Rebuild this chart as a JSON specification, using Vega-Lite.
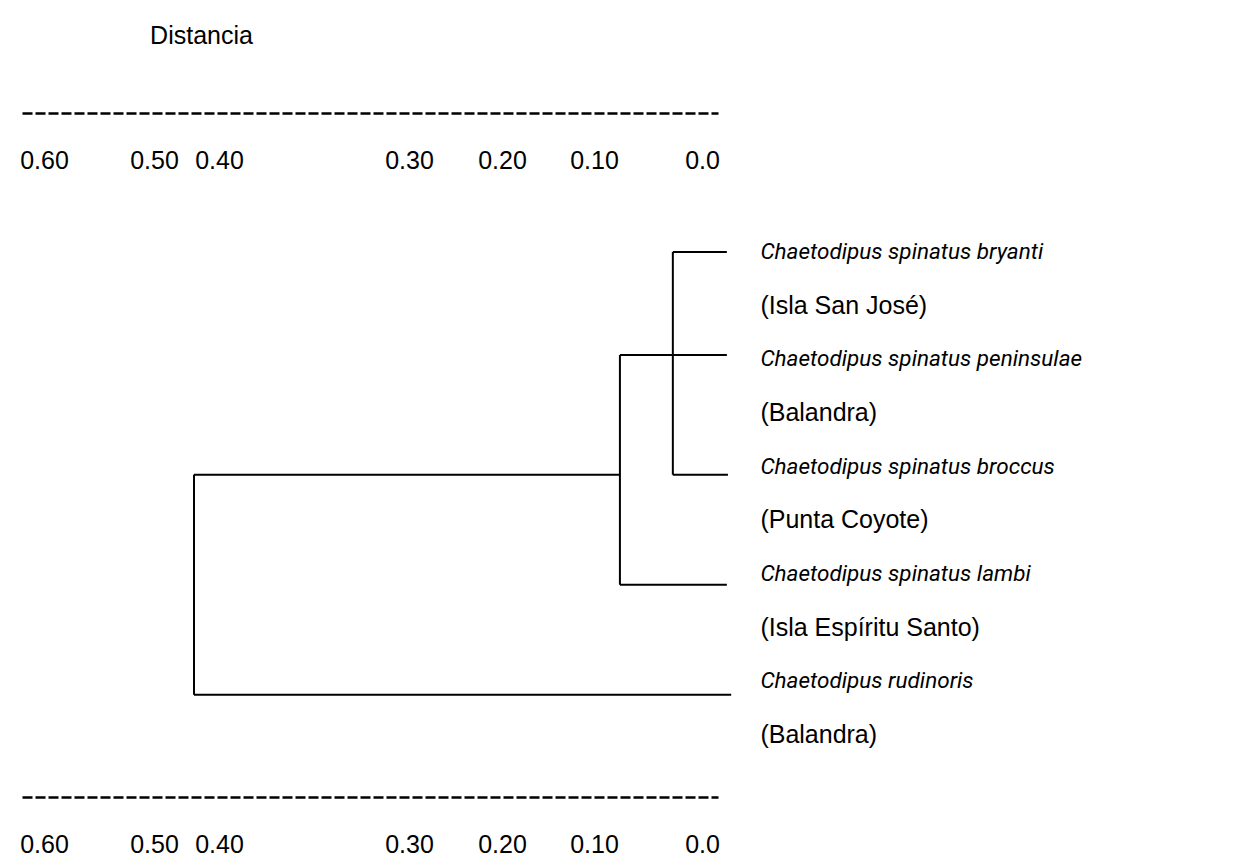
{
  "$schema": "https://vega.github.io/schema/vega-lite/v6.json",
  "width": 1236,
  "height": 865,
  "padding": 0,
  "autosize": "none",
  "background": "white",
  "config": {"view": {"stroke": null}, "font": "Liberation Sans"},
  "datasets": {
    "segments": [
      {"part": "bryanti", "x1": 0.027, "x2": -0.023, "y1": 1, "y2": 1},
      {"part": "peninsulae", "x1": 0.076, "x2": -0.023, "y1": 2.92, "y2": 2.92},
      {"part": "broccus", "x1": 0.027, "x2": -0.024, "y1": 5.15, "y2": 5.15},
      {"part": "node A", "x1": 0.027, "x2": 0.027, "y1": 1, "y2": 5.15},
      {"part": "lambi", "x1": 0.076, "x2": -0.023, "y1": 7.2, "y2": 7.2},
      {"part": "node B", "x1": 0.076, "x2": 0.076, "y1": 2.92, "y2": 7.2},
      {"part": "root-B", "x1": 0.4385, "x2": 0.076, "y1": 5.15, "y2": 5.15},
      {"part": "rudinoris", "x1": 0.4385, "x2": -0.027, "y1": 9.25, "y2": 9.25},
      {"part": "root", "x1": 0.4385, "x2": 0.4385, "y1": 5.15, "y2": 9.25}
    ],
    "labels": [
      {"row": 1, "kind": "taxon", "text": "Chaetodipus spinatus bryanti"},
      {"row": 2, "kind": "locality", "text": "(Isla San José)"},
      {"row": 3, "kind": "taxon", "text": "Chaetodipus spinatus peninsulae"},
      {"row": 4, "kind": "locality", "text": "(Balandra)"},
      {"row": 5, "kind": "taxon", "text": "Chaetodipus spinatus broccus"},
      {"row": 6, "kind": "locality", "text": "(Punta Coyote)"},
      {"row": 7, "kind": "taxon", "text": "Chaetodipus spinatus lambi"},
      {"row": 8, "kind": "locality", "text": "(Isla Espíritu Santo)"},
      {"row": 9, "kind": "taxon", "text": "Chaetodipus rudinoris"},
      {"row": 10, "kind": "locality", "text": "(Balandra)"}
    ]
  },
  "resolve": {"axis": {"x": "independent"}},
  "layer": [
    {
      "data": {"name": "segments"},
      "mark": {"type": "rule", "color": "black", "strokeWidth": 2},
      "encoding": {
        "x": {
          "field": "x1", "type": "quantitative",
          "scale": {"domain": [0.62, 0.6, 0.5, 0.4, 0.3, 0.2, 0.1, 0, -0.0148], "range": [22, 44, 154, 219, 409, 502, 594, 702, 718], "nice": false, "zero": false},
          "axis": {
            "orient": "bottom", "offset": -752,
            "values": [0.6, 0.5, 0.4, 0.3, 0.2, 0.1, 0],
            "labelExpr": "datum.value == 0 ? '0.0' : format(datum.value, '.2f')",
            "ticks": false, "grid": false, "labelFlush": false, "labelOverlap": false,
            "domainColor": "black", "domainWidth": 2.5, "domainDash": [10, 3],
            "labelFontSize": 25, "labelColor": "black", "labelPadding": 47, "labelBaseline": "middle",
            "title": "Distancia", "titleX": 201, "titleY": -78, "titleAlign": "center", "titleBaseline": "middle",
            "titleFontSize": 25, "titleFontWeight": "normal", "titleColor": "black"
          }
        },
        "x2": {"field": "x2"},
        "y": {"field": "y1", "type": "quantitative", "scale": {"domain": [1, 10], "range": [252, 735], "nice": false, "zero": false}, "axis": null},
        "y2": {"field": "y2"}
      }
    },
    {
      "data": {"name": "labels"},
      "transform": [{"filter": "datum.kind == 'taxon'"}],
      "mark": {"type": "text", "align": "left", "baseline": "middle", "font": "Roboto", "fontSize": 22.5, "fontStyle": "italic", "color": "black"},
      "encoding": {
        "x": {
          "datum": -0.054, "type": "quantitative",
          "scale": {"domain": [0.62, 0.6, 0.5, 0.4, 0.3, 0.2, 0.1, 0, -0.0148], "range": [22, 44, 154, 219, 409, 502, 594, 702, 718], "nice": false, "zero": false},
          "axis": {
            "orient": "bottom", "offset": -68,
            "values": [0.6, 0.5, 0.4, 0.3, 0.2, 0.1, 0],
            "labelExpr": "datum.value == 0 ? '0.0' : format(datum.value, '.2f')",
            "ticks": false, "grid": false, "labelFlush": false, "labelOverlap": false,
            "domainColor": "black", "domainWidth": 2.5, "domainDash": [10, 3],
            "labelFontSize": 25, "labelColor": "black", "labelPadding": 47, "labelBaseline": "middle",
            "title": null
          }
        },
        "y": {"field": "row", "type": "quantitative", "scale": {"domain": [1, 10], "range": [252, 735], "nice": false, "zero": false}, "axis": null},
        "text": {"field": "text"}
      }
    },
    {
      "data": {"name": "labels"},
      "transform": [{"filter": "datum.kind == 'locality'"}],
      "mark": {"type": "text", "align": "left", "baseline": "middle", "fontSize": 25, "color": "black"},
      "encoding": {
        "x": {
          "datum": -0.054, "type": "quantitative",
          "scale": {"domain": [0.62, 0.6, 0.5, 0.4, 0.3, 0.2, 0.1, 0, -0.0148], "range": [22, 44, 154, 219, 409, 502, 594, 702, 718], "nice": false, "zero": false},
          "axis": null
        },
        "y": {"field": "row", "type": "quantitative", "scale": {"domain": [1, 10], "range": [252, 735], "nice": false, "zero": false}, "axis": null},
        "text": {"field": "text"}
      }
    }
  ]
}
